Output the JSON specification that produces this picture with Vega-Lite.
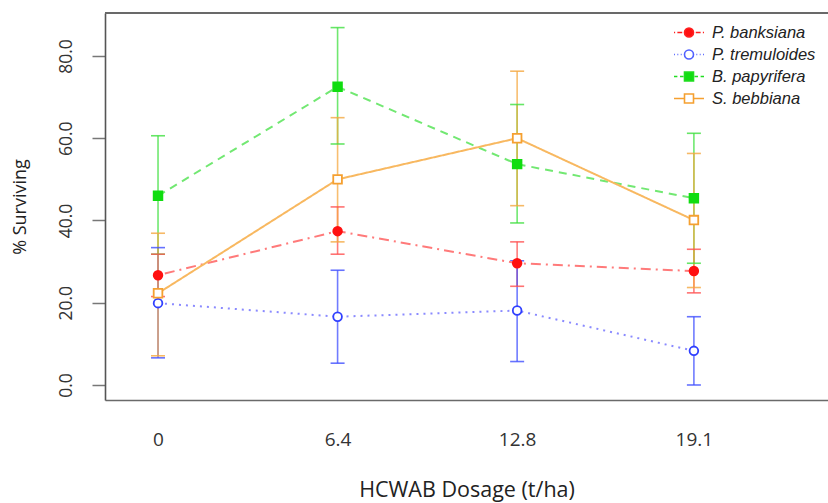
{
  "$schema": "https://vega.github.io/schema/vega-lite/v6.json",
  "width": 723,
  "height": 387,
  "autosize": {"type": "none"},
  "padding": {"left": 105, "top": 13, "right": 0, "bottom": 103},
  "background": "white",
  "config": {
    "view": {"stroke": null},
    "font": "Open Sans"
  },
  "data": {
    "values": [
      {"species": "P. banksiana", "dose": 0, "mean": 26.7, "lo": 21.5, "hi": 31.8},
      {"species": "P. banksiana", "dose": 6.4, "mean": 37.4, "lo": 31.8, "hi": 43.3},
      {"species": "P. banksiana", "dose": 12.8, "mean": 29.6, "lo": 24.0, "hi": 34.8},
      {"species": "P. banksiana", "dose": 19.1, "mean": 27.7, "lo": 22.4, "hi": 33.0},
      {"species": "P. tremuloides", "dose": 0, "mean": 19.9, "lo": 6.6, "hi": 33.4},
      {"species": "P. tremuloides", "dose": 6.4, "mean": 16.6, "lo": 5.3, "hi": 27.9},
      {"species": "P. tremuloides", "dose": 12.8, "mean": 18.1, "lo": 5.7, "hi": 30.2},
      {"species": "P. tremuloides", "dose": 19.1, "mean": 8.3, "lo": 0.0, "hi": 16.6},
      {"species": "B. papyrifera", "dose": 0, "mean": 46.0, "lo": 31.8, "hi": 60.6},
      {"species": "B. papyrifera", "dose": 6.4, "mean": 72.5, "lo": 58.6, "hi": 86.9},
      {"species": "B. papyrifera", "dose": 12.8, "mean": 53.7, "lo": 39.4, "hi": 68.2},
      {"species": "B. papyrifera", "dose": 19.1, "mean": 45.4, "lo": 29.6, "hi": 61.2},
      {"species": "S. bebbiana", "dose": 0, "mean": 22.3, "lo": 7.1, "hi": 36.9},
      {"species": "S. bebbiana", "dose": 6.4, "mean": 50.0, "lo": 34.8, "hi": 65.0},
      {"species": "S. bebbiana", "dose": 12.8, "mean": 60.0, "lo": 43.6, "hi": 76.3},
      {"species": "S. bebbiana", "dose": 19.1, "mean": 40.1, "lo": 23.7, "hi": 56.3}
    ]
  },
  "encoding": {
    "x": {
      "field": "dose", "type": "quantitative",
      "scale": {"domain": [-1.89, 23.88], "nice": false, "zero": false},
      "axis": {
        "values": [0, 6.4, 12.8, 19.1], "grid": false, "ticks": false,
        "domain": true, "domainColor": "#6a6a6a", "domainWidth": 1.6,
        "labelFontSize": 19, "labelColor": "#333", "labelPadding": 30, "labelFont": "Open Sans",
        "labelExpr": "datum.value == 0 ? '0' : format(datum.value, '.1f')",
        "title": "HCWAB Dosage (t/ha)", "titleFontSize": 21.5, "titleFontWeight": "normal",
        "titleColor": "#222", "titlePadding": 30, "titleFont": "Open Sans"
      }
    },
    "y": {
      "field": "mean", "type": "quantitative",
      "scale": {"domain": [-3.65, 90.45], "nice": false, "zero": false},
      "axis": {
        "values": [0, 20, 40, 60, 80], "format": ".1f", "grid": false,
        "domain": true, "domainColor": "#555", "domainWidth": 1.6,
        "tickSize": 13, "tickColor": "#777", "tickWidth": 1.5,
        "labelAngle": 270, "labelAlign": "center", "labelBaseline": "bottom",
        "labelFontSize": 17.5, "labelColor": "#333", "labelPadding": 17,
        "title": "% Surviving", "titleFontSize": 18, "titleFontWeight": "normal",
        "titleColor": "#222", "titlePadding": 28
      }
    }
  },
  "layer": [
    {
      "mark": {"type": "rule", "strokeWidth": 1.6, "stroke": "#6a6a6a"},
      "encoding": {
        "x": null,
        "y": {"datum": 90.45, "type": "quantitative"}
      }
    },
    {
      "mark": {"type": "rule", "strokeWidth": 1.6, "opacity": 0.75},
      "encoding": {
        "y": {"field": "lo", "type": "quantitative"},
        "y2": {"field": "hi"},
        "stroke": {"field": "species", "type": "nominal", "legend": null,
          "scale": {"domain": ["P. banksiana", "P. tremuloides", "B. papyrifera", "S. bebbiana"],
                    "range": ["#ff5050", "#4050ff", "#40e040", "#f5a840"]}}
      }
    },
    {
      "mark": {"type": "point", "shape": "M-1,0L1,0", "size": 196, "filled": false, "strokeWidth": 1.6, "opacity": 0.8},
      "encoding": {
        "y": {"field": "lo", "type": "quantitative"},
        "stroke": {"field": "species", "type": "nominal", "legend": null,
          "scale": {"domain": ["P. banksiana", "P. tremuloides", "B. papyrifera", "S. bebbiana"],
                    "range": ["#ff5050", "#4050ff", "#40e040", "#f5a840"]}}
      }
    },
    {
      "mark": {"type": "point", "shape": "M-1,0L1,0", "size": 196, "filled": false, "strokeWidth": 1.6, "opacity": 0.8},
      "encoding": {
        "y": {"field": "hi", "type": "quantitative"},
        "stroke": {"field": "species", "type": "nominal", "legend": null,
          "scale": {"domain": ["P. banksiana", "P. tremuloides", "B. papyrifera", "S. bebbiana"],
                    "range": ["#ff5050", "#4050ff", "#40e040", "#f5a840"]}}
      }
    },
    {
      "mark": {"type": "line", "strokeWidth": 2},
      "encoding": {
        "detail": {"field": "species", "type": "nominal"},
        "stroke": {"field": "species", "type": "nominal", "legend": null,
          "scale": {"domain": ["P. banksiana", "P. tremuloides", "B. papyrifera", "S. bebbiana"],
                    "range": ["#ff7a7a", "#8a8aff", "#72e872", "#f8b860"]}},
        "strokeDash": {"field": "species", "type": "nominal", "legend": null,
          "scale": {"domain": ["P. banksiana", "P. tremuloides", "B. papyrifera", "S. bebbiana"],
                    "range": [[2, 5, 10, 5], [2, 5], [8, 6], [1, 0]]}}
      }
    },
    {
      "mark": {"type": "point", "size": 75, "strokeWidth": 1.8, "opacity": 1},
      "encoding": {
        "shape": {"field": "species", "type": "nominal", "legend": null,
          "scale": {"domain": ["P. banksiana", "P. tremuloides", "B. papyrifera", "S. bebbiana"],
                    "range": ["circle", "circle", "square", "square"]}},
        "stroke": {"field": "species", "type": "nominal", "legend": null,
          "scale": {"domain": ["P. banksiana", "P. tremuloides", "B. papyrifera", "S. bebbiana"],
                    "range": ["#ff1010", "#3040ff", "#10dd10", "#f5a030"]}},
        "fill": {"field": "species", "type": "nominal", "legend": null,
          "scale": {"domain": ["P. banksiana", "P. tremuloides", "B. papyrifera", "S. bebbiana"],
                    "range": ["#ff1010", "#ffffff", "#10dd10", "#ffffff"]}}
      }
    },
    {
      "mark": {"type": "point", "opacity": 0, "strokeWidth": 1.6},
      "encoding": {
        "shape": {"field": "species", "type": "nominal",
          "scale": {"domain": ["P. banksiana", "P. tremuloides", "B. papyrifera", "S. bebbiana"],
                    "range": [
                      "M-2,0L-1.85,0M-1.55,0L-0.9,0M0.6,0A0.6,0.6,0,1,1,-0.6,0A0.6,0.6,0,1,1,0.6,0ZM0.9,0L1.55,0M1.85,0L2,0",
                      "M-2,0L-1.88,0M-1.55,0L-1.43,0M-1.1,0L-0.98,0M0.6,0A0.6,0.6,0,1,1,-0.6,0A0.6,0.6,0,1,1,0.6,0ZM0.98,0L1.1,0M1.43,0L1.55,0M1.88,0L2,0",
                      "M-2,0L-1.55,0M-1.2,0L-0.75,0M-0.6,-0.6L0.6,-0.6L0.6,0.6L-0.6,0.6ZM0.75,0L1.2,0M1.55,0L2,0",
                      "M-2,0L-0.6,0M-0.6,-0.6L0.6,-0.6L0.6,0.6L-0.6,0.6ZM0.6,0L2,0"
                    ]},
          "legend": {
            "title": null, "orient": "none", "legendX": 575.5, "legendY": 11,
            "symbolSize": 225, "symbolOpacity": 1, "symbolStrokeWidth": 1.6,
            "labelFont": "Liberation Sans", "labelFontStyle": "italic", "labelFontSize": 16.5,
            "labelColor": "#222", "labelOffset": 14.5, "rowPadding": 5, "padding": 0
          }
        },
        "stroke": {"field": "species", "type": "nominal",
          "scale": {"domain": ["P. banksiana", "P. tremuloides", "B. papyrifera", "S. bebbiana"],
                    "range": ["#ff2020", "#5060ff", "#20dd20", "#f5a030"]}},
        "fill": {"field": "species", "type": "nominal",
          "scale": {"domain": ["P. banksiana", "P. tremuloides", "B. papyrifera", "S. bebbiana"],
                    "range": ["#ff1010", "#ffffff", "#10dd10", "#ffffff"]}}
      }
    }
  ],
  "resolve": {
    "scale": {"stroke": "independent", "fill": "independent", "shape": "independent", "strokeDash": "independent"}
  }
}
